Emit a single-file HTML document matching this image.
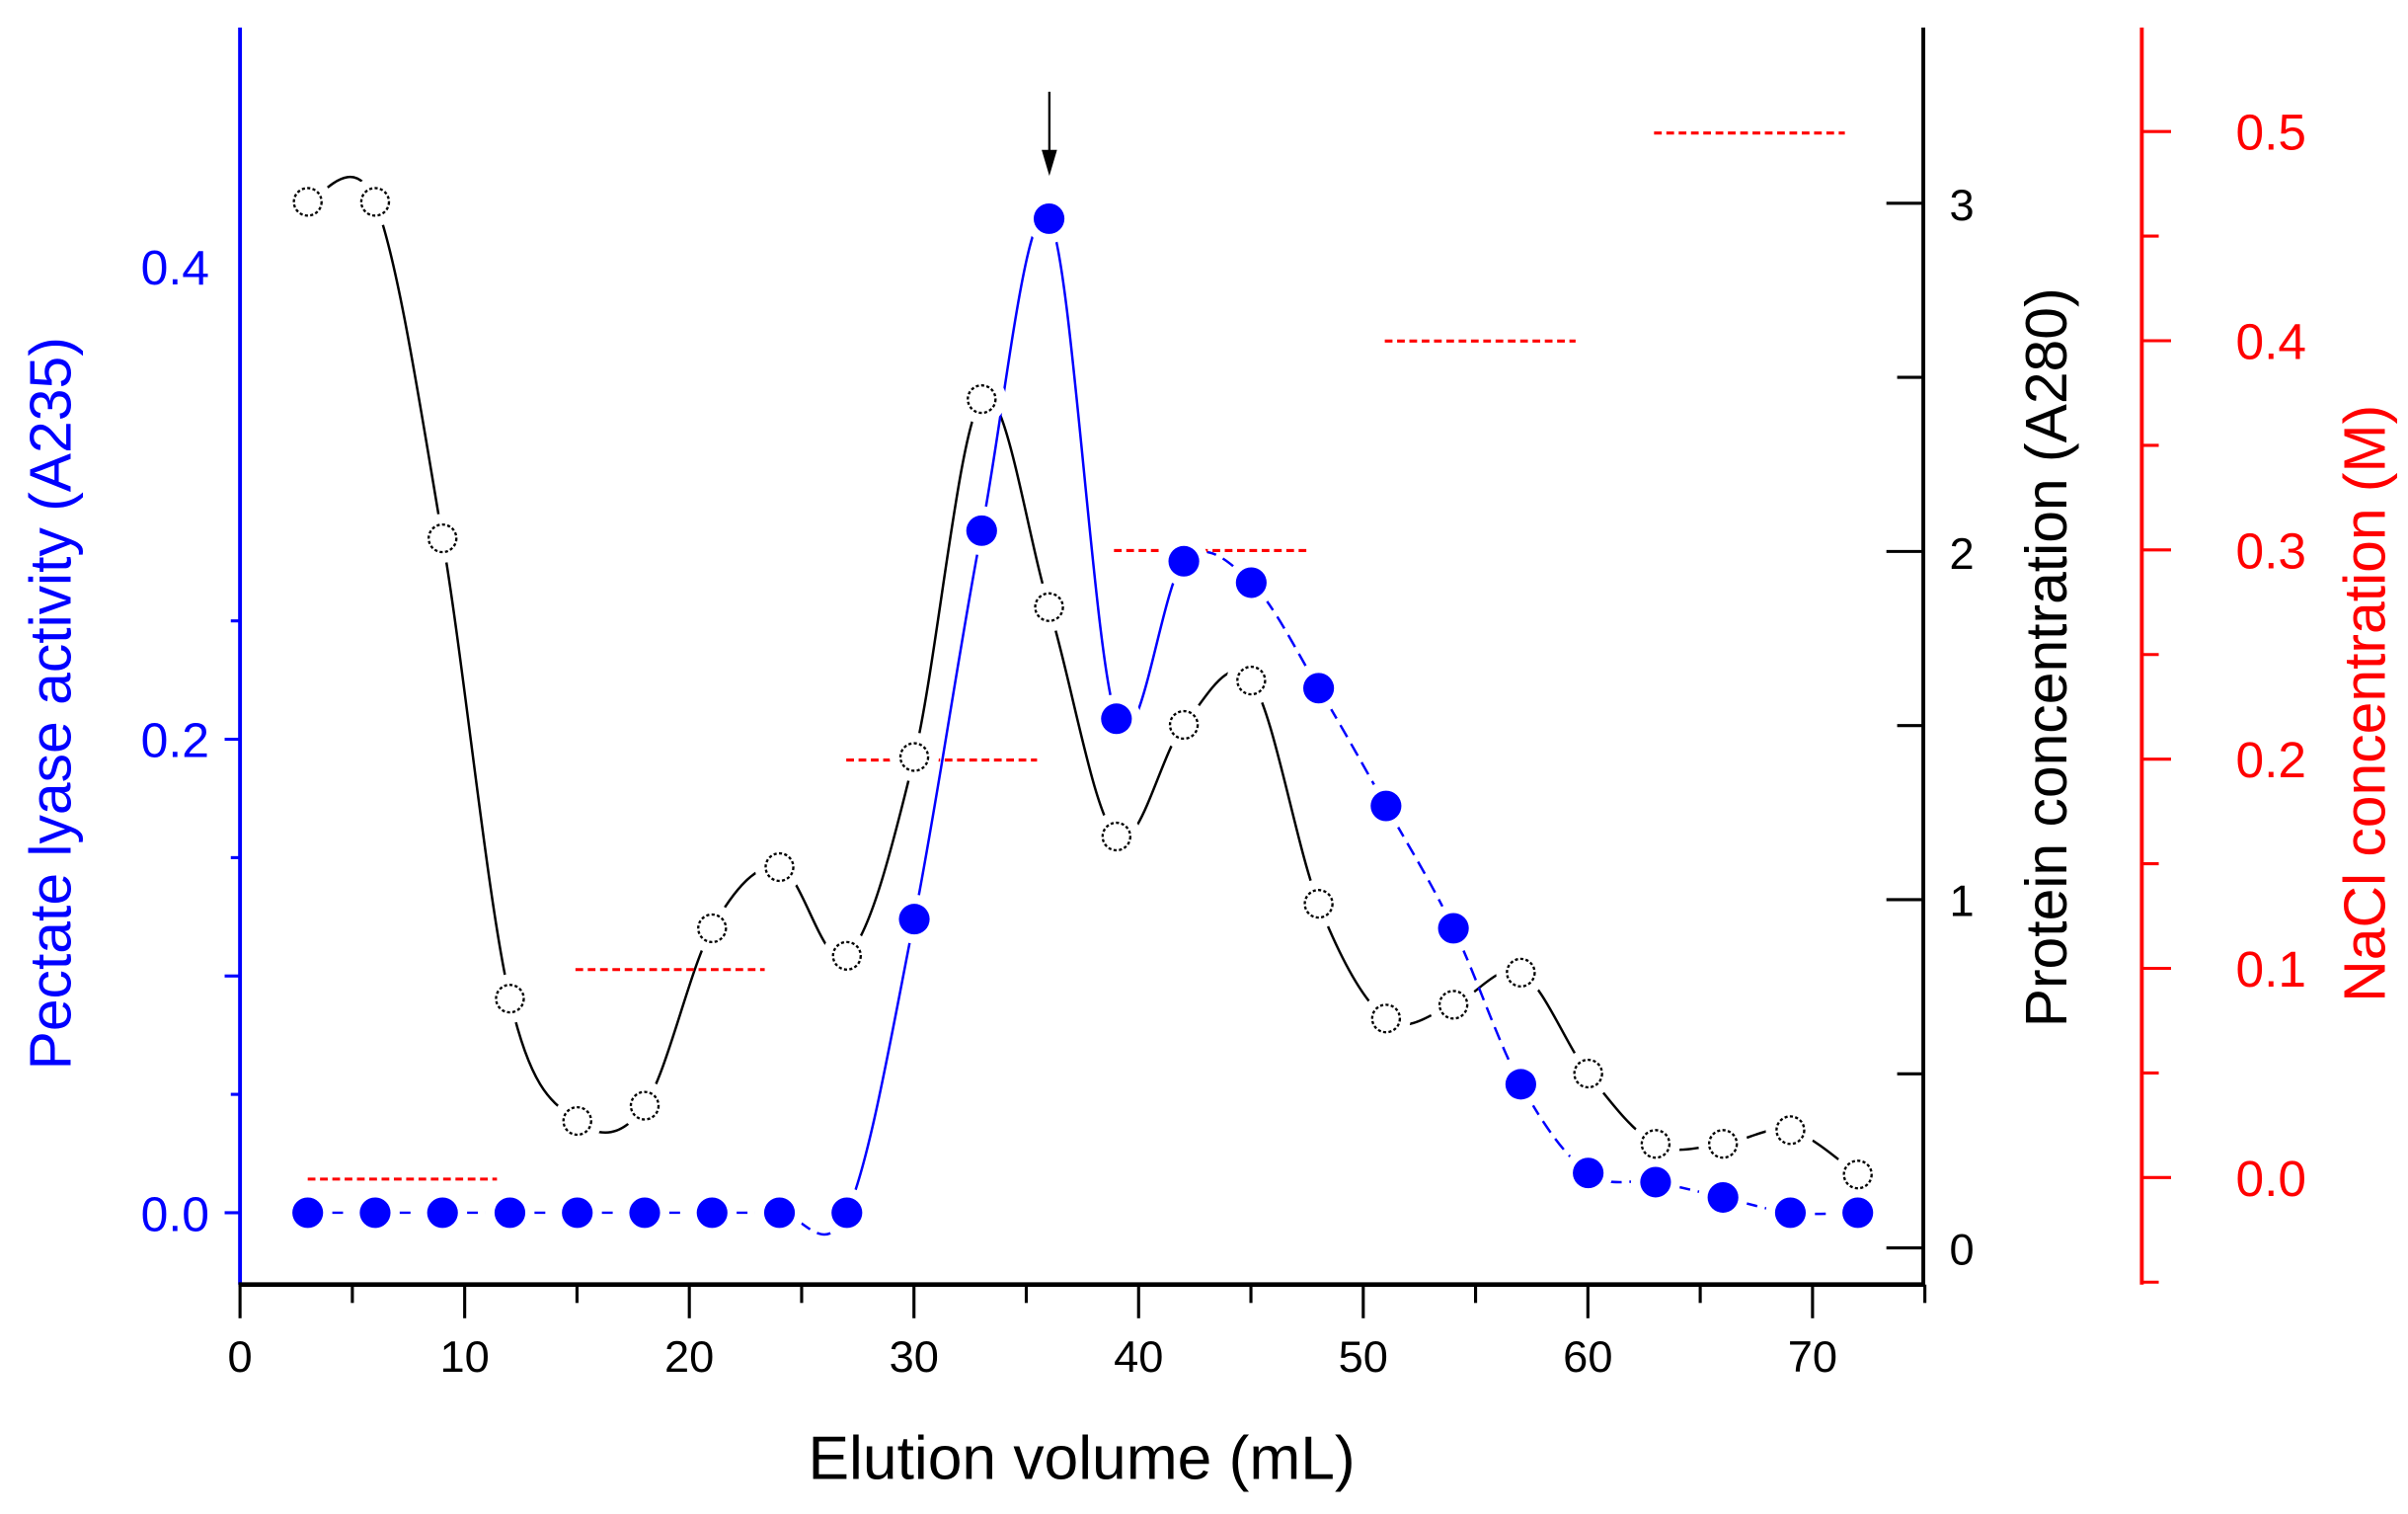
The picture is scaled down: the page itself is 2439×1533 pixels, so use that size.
<!DOCTYPE html>
<html><head><meta charset="utf-8"><style>
html,body{margin:0;padding:0;background:#fff}
svg{display:block}
text{font-family:"Liberation Sans",Arial,sans-serif}
</style></head><body>
<svg id="s" width="2439" height="1533" viewBox="0 0 1565 990" preserveAspectRatio="none" xmlns="http://www.w3.org/2000/svg">
<rect width="1565" height="990" fill="#fff"/>
<g id="lines"></g>
<g stroke="#ff0000" stroke-width="2" stroke-dasharray="5,3">
<line x1="200" y1="771" x2="323" y2="771"/>
<line x1="374" y1="634" x2="497" y2="634"/>
<line x1="550" y1="497" x2="674" y2="497"/>
<line x1="724" y1="360" x2="849" y2="360"/>
<line x1="900" y1="223" x2="1024" y2="223"/>
<line x1="1075" y1="87" x2="1199" y2="87"/>
</g>
<g id="marks"></g>
<line x1="682" y1="60" x2="682" y2="104" stroke="#000" stroke-width="1.5"/>
<polygon points="677,98 687,98 682,115" fill="#000"/>
<line x1="156" y1="18" x2="156" y2="840" stroke="#0000ff" stroke-width="2.5"/>
<line x1="155" y1="840" x2="1251" y2="840" stroke="#000" stroke-width="3"/>
<line x1="1250" y1="18" x2="1250" y2="841" stroke="#000" stroke-width="2.5"/>
<line x1="1392" y1="18" x2="1392" y2="840" stroke="#ff0000" stroke-width="2.5"/>
<g id="ticks"></g>
<g font-size="29" text-anchor="middle" fill="#000" id="xl"></g>
<text x="703" y="967" font-size="40" text-anchor="middle">Elution volume (mL)</text>
<g font-size="32" fill="#0000ff" text-anchor="end">
<text x="136" y="805">0.0</text><text x="136" y="495">0.2</text><text x="136" y="186">0.4</text>
</g>
<text transform="translate(46,460) rotate(-90)" font-size="38" fill="#0000ff" text-anchor="middle">Pectate lyase activity (A235)</text>
<g font-size="29" fill="#000" text-anchor="middle">
<text x="1275" y="827">0</text><text x="1275" y="599">1</text><text x="1275" y="372">2</text><text x="1275" y="144">3</text>
</g>
<text transform="translate(1343,430) rotate(-90)" font-size="38" fill="#000" text-anchor="middle">Protein concentration (A280)</text>
<g font-size="33" fill="#ff0000" text-anchor="middle" id="rl"></g>
<text transform="translate(1550,460) rotate(-90)" font-size="38" fill="#ff0000" text-anchor="middle">NaCl concentration (M)</text>
</svg>
<script>
var NS="http://www.w3.org/2000/svg";
function el(p,t,a){var e=document.createElementNS(NS,t);for(var k in a)e.setAttribute(k,a[k]);p.appendChild(e);return e;}
var xs=[];for(var i=0;i<24;i++)xs.push(200+i*43.8);
var bk=[132,132,352,653,733,723,607,567,625,495,261,397,547,474,445,591,666,657,636,702,748,748,739,768];
var bl=[793,793,793,793,793,793,793,793,793,601,347,143,470,367,381,450,527,607,709,767,773,783,793,793];
function seg(ys,i){var p0=[xs[Math.max(i-1,0)],ys[Math.max(i-1,0)]],p1=[xs[i],ys[i]],p2=[xs[i+1],ys[i+1]],p3=[xs[Math.min(i+2,23)],ys[Math.min(i+2,23)]];
return "M"+p1[0]+","+p1[1]+" C"+(p1[0]+(p2[0]-p0[0])/6)+","+(p1[1]+(p2[1]-p0[1])/6)+" "+(p2[0]-(p3[0]-p1[0])/6)+","+(p2[1]-(p3[1]-p1[1])/6)+" "+p2[0]+","+p2[1];}
var L=document.getElementById("lines");
for(var i=0;i<23;i++){
 el(L,"path",{d:seg(bk,i),fill:"none",stroke:"#000","stroke-width":1.6});
 var dashed=(i<8||i>=13);
 var a={d:seg(bl,i),fill:"none",stroke:"#0000ff","stroke-width":1.6};
 if(dashed)a["stroke-dasharray"]="9,5";
 el(L,"path",a);
}
var M=document.getElementById("marks");
for(var i=0;i<24;i++){
 el(M,"circle",{cx:xs[i],cy:bk[i],r:16,fill:"#fff"});
 el(M,"circle",{cx:xs[i],cy:bl[i],r:16,fill:"#fff"});
}
for(var i=0;i<24;i++){
 el(M,"circle",{cx:xs[i],cy:bk[i],r:9,fill:"#fff",stroke:"#000","stroke-width":1.5,"stroke-dasharray":"2,1.5"});
 el(M,"circle",{cx:xs[i],cy:bl[i],r:10,fill:"#0000ff"});
}
var T=document.getElementById("ticks");
for(var v=0;v<=75;v+=5){var x=156+v*14.6;el(T,"line",{x1:x,y1:840,x2:x,y2:v%10==0?862:852,stroke:"#000","stroke-width":2});}
var X=document.getElementById("xl");
for(var v=0;v<=70;v+=10){var t=el(X,"text",{x:156+v*14.6,y:897});t.textContent=v;}
for(var k=0;k<=5;k++){var y=793-k*77.4;if(y<18)break;el(T,"line",{x1:k%2==0?146:150,y1:y,x2:156,y2:y,stroke:"#0000ff","stroke-width":2});}
for(var k=0;k<=6;k++){var y=816-k*113.85;el(T,"line",{x1:k%2==0?1226:1233,y1:y,x2:1250,y2:y,stroke:"#000","stroke-width":2});}
for(var k=-1;k<=11;k++){var y=770-k*68.4;if(y<18||y>840)continue;el(T,"line",{x1:1392,y1:y,x2:k%2==0?1411:1403,y2:y,stroke:"#ff0000","stroke-width":2});}
var R=document.getElementById("rl");
for(var k=0;k<=5;k++){var t=el(R,"text",{x:1476,y:782-k*136.8});t.textContent="0."+k;}
</script>
</body></html>
